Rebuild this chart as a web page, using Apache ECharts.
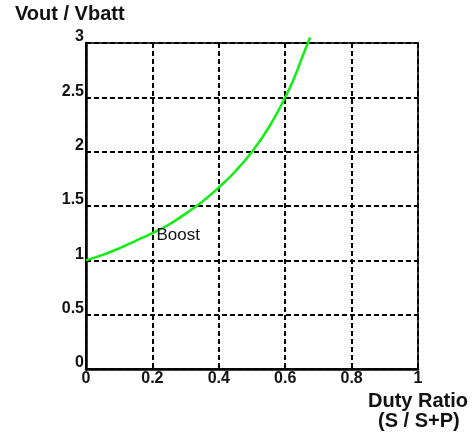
<!DOCTYPE html>
<html>
<head>
<meta charset="utf-8">
<script src="https://cdn.jsdelivr.net/npm/echarts@6/dist/echarts.min.js"></script>
<style>
  html, body { margin: 0; padding: 0; background: #fff; }
  #chart { width: 474px; height: 433px; }
</style>
</head>
<body>
<div id="chart"></div>
<script>
// duty ratio D and the boost gain
const duty = [0, 0.05, 0.1, 0.15, 0.2, 0.25, 0.3, 0.35, 0.4, 0.45, 0.5, 0.55, 0.6, 0.63, 0.65, 0.675];
const gain = [1, 1.05, 1.11, 1.18, 1.25, 1.33, 1.43, 1.54, 1.67, 1.82, 2.0, 2.22, 2.5, 2.7, 2.86, 3.05];
const boostLabel = { x: 0.2, y: 1.25, text: 'Boost' };

const chart = echarts.init(document.getElementById('chart'));
const font = 'Arial, "Liberation Sans", Helvetica, sans-serif';

const option = {
  backgroundColor: '#fff',
  animation: false,
  grid: {
    left: 86, right: 56, top: 43, bottom: 64,
    show: true, borderColor: '#333', borderWidth: 2, backgroundColor: 'transparent'
  },
  xAxis: {
    type: 'value', min: 0, max: 1, interval: 0.2,
    axisLine: { show: true, lineStyle: { color: '#000', width: 2.5 } },
    axisTick: { show: false },
    axisLabel: {
      color: '#111', fontFamily: font, fontWeight: 'bold', fontSize: 16, margin: 2,
      formatter: v => String(+v.toFixed(1))
    },
    splitLine: { show: true, lineStyle: { color: '#000', width: 2, type: [5, 3] } }
  },
  yAxis: {
    type: 'value', min: 0, max: 3, interval: 0.5,
    axisLine: { show: true, lineStyle: { color: '#000', width: 2.5 } },
    axisTick: { show: false },
    axisLabel: {
      color: '#111', fontFamily: font, fontWeight: 'bold', fontSize: 16, margin: 2,
      verticalAlign: 'bottom', padding: [0, 0, -2, 0]
    },
    splitLine: { show: true, lineStyle: { color: '#000', width: 2, type: [5, 3] } }
  },
  graphic: [
    { type: 'text', left: 15, top: 4, style: { text: 'Vout / Vbatt', font: 'bold 20px ' + font, fill: '#111' } },
    { type: 'text', left: 368, top: 391, style: { text: 'Duty Ratio', font: 'bold 20px ' + font, fill: '#111' } },
    { type: 'text', left: 378, top: 411, style: { text: '(S / S+P)', font: 'bold 20px ' + font, fill: '#111' } }
  ],
  series: [{
    type: 'line',
    data: duty.map((d, i) => [d, gain[i]]),
    smooth: true,
    showSymbol: false,
    clip: false,
    lineStyle: { color: '#11ee11', width: 2.5 },
    markPoint: {
      symbol: 'circle', symbolSize: 0, silent: true,
      label: {
        show: true, position: 'right', distance: 4, offset: [0, 2], formatter: boostLabel.text,
        color: '#111', fontFamily: font, fontSize: 17
      },
      data: [{ coord: [boostLabel.x, boostLabel.y] }]
    }
  }]
};

chart.setOption(option);
</script>
</body>
</html>
